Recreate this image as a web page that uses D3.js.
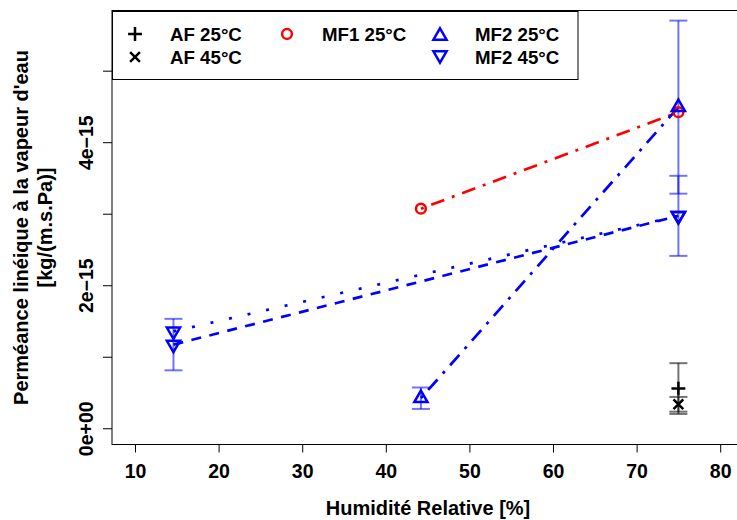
<!DOCTYPE html>
<html><head><meta charset="utf-8">
<script src="https://cdn.jsdelivr.net/npm/d3@7"></script>
<style>
html,body{margin:0;padding:0;background:#fff;}
text{font-family:"Liberation Sans",Arial,Helvetica,sans-serif;font-weight:bold;}
</style></head>
<body>
<svg id="chart" width="737" height="520"></svg>
<script>
// ---- data ----
const xTicks = [10, 20, 30, 40, 50, 60, 70, 80];
const yTicks = [0, 1e-15, 2e-15, 3e-15, 4e-15, 5e-15];
const yTickLabels = ["0e+00", "", "2e\u221215", "", "4e\u221215", ""];

const afX = [75];
const af25 = [0.555e-15];
const af25Err = [0.355e-15];
const af45 = [0.335e-15];
const af45Err = [0.103e-15];

const mf1X = [44.2, 75];
const mf1_25 = [3.07e-15, 4.42e-15];

const mf2_25X = [44.2, 75];
const mf2_25 = [0.42e-15, 4.49e-15];
const mf2_25Err = [0.15e-15, 1.21e-15];

const mf2_45X = [14.6, 75];
const mf2_45 = [1.17e-15, 2.97e-15];
const mf2_45Err = [0.36e-15, 0.56e-15];

const mf2_45bX = [14.6, 75];
const mf2_45b = [1.355e-15, 2.97e-15];

const legendLabels = ["AF 25°C", "AF 45°C", "MF1 25°C", "MF2 25°C", "MF2 45°C"];

// ---- layout ----
const svg = d3.select("#chart");
const x = d3.scaleLinear().domain([7.2, 82.8]).range([111.6, 743.6]);
const y = d3.scaleLinear().domain([-0.2244e-15, 5.8344e-15]).range([444.3, 11]);

const R = 4.9;
const TRC0 = Math.sqrt(4 * Math.PI / (3 * Math.sqrt(3)));
const TRC1 = TRC0 * Math.sqrt(3) / 2, TRC2 = TRC0 / 2;

function symbolPath(type) {
  const r = TRC0 * R, xc = TRC1 * R, yc = TRC2 * R;
  if (type === "up") return `M0,${-r}L${xc},${yc}L${-xc},${yc}Z`;
  if (type === "down") return `M0,${r}L${xc},${-yc}L${-xc},${-yc}Z`;
  if (type === "plus") { const h = Math.SQRT2 * R; return `M${-h},0H${h}M0,${-h}V${h}`; }
  if (type === "cross") return `M${-R},${-R}L${R},${R}M${-R},${R}L${R},${-R}`;
  return null;
}
function drawSymbol(g, type, cx, cy, color) {
  if (type === "circle") {
    g.append("circle").attr("cx", cx).attr("cy", cy).attr("r", R)
      .attr("fill", "none").attr("stroke", color).attr("stroke-width", 2.5);
  } else {
    g.append("path").attr("d", symbolPath(type)).attr("transform", `translate(${cx},${cy})`)
      .attr("fill", "none").attr("stroke", color).attr("stroke-width", 2.5)
      .attr("stroke-linejoin", "miter");
  }
}

// axes
const xAxis = svg.append("g").attr("transform", "translate(0,444.5)")
  .call(d3.axisBottom(x).tickValues(xTicks).tickSize(8).tickPadding(13).tickFormat(d3.format("d")));
xAxis.select(".domain").remove();
xAxis.selectAll("text").remove();
xAxis.selectAll(".tick").append("text").attr("y", 33).attr("text-anchor", "middle")
  .attr("font-size", 19.5).attr("fill", "#000").text(d => d);

const yAxis = svg.append("g").attr("transform", "translate(112,0)")
  .call(d3.axisLeft(y).tickValues(yTicks).tickSize(9).tickFormat((d, i) => yTickLabels[i]));
yAxis.select(".domain").remove();
yAxis.selectAll("text").remove();
yAxis.selectAll(".tick").append("text")
  .attr("transform", "translate(-19,0) rotate(-90)")
  .attr("text-anchor", "middle").attr("font-size", 19.5).attr("fill", "#000")
  .text((d, i) => yTickLabels[i]);

// box
svg.append("rect").attr("x", 112).attr("y", 10.5).attr("width", 640).attr("height", 434)
  .attr("fill", "none").attr("stroke", "#000").attr("stroke-width", 1);

// axis titles
svg.append("text").attr("x", 428).attr("y", 515).attr("text-anchor", "middle")
  .attr("font-size", 20).text("Humidité Relative [%]");
svg.append("text").attr("transform", "translate(27.5,227.5) rotate(-90)").attr("text-anchor", "middle")
  .attr("font-size", 20).text("Perméance linéique à la vapeur d'eau");
svg.append("text").attr("transform", "translate(51.5,227.5) rotate(-90)").attr("text-anchor", "middle")
  .attr("font-size", 20).text("[kg/(m.s.Pa)]");

const plot = svg.append("g");

// lines
function drawLine(xs, ys, color, dash) {
  const pts = xs.map((d, i) => [x(d), y(ys[i])]);
  plot.append("path").attr("d", d3.line()(pts)).attr("fill", "none")
    .attr("stroke", color).attr("stroke-width", 2.7).attr("stroke-dasharray", dash);
}
drawLine(mf1X, mf1_25, "#ff0000", "3,8,14,8");
drawLine(mf2_25X, mf2_25, "#0000ff", "3,8,14,8");
drawLine(mf2_45X, mf2_45, "#0000ff", "10,8.5");
drawLine(mf2_45bX, mf2_45b, "#0000ff", "3,16");

// error bars
function drawErr(xs, ys, es, color) {
  xs.forEach((xv, i) => {
    const cx = x(xv), lo = y(ys[i] - es[i]), hi = y(ys[i] + es[i]);
    const g = plot.append("g").attr("stroke", color).attr("stroke-opacity", 0.55).attr("stroke-width", 2);
    g.append("line").attr("x1", cx).attr("x2", cx).attr("y1", lo).attr("y2", hi);
    g.append("line").attr("x1", cx - 9).attr("x2", cx + 9).attr("y1", lo).attr("y2", lo);
    g.append("line").attr("x1", cx - 9).attr("x2", cx + 9).attr("y1", hi).attr("y2", hi);
  });
}
drawErr(afX, af25, af25Err, "#000");
drawErr(afX, af45, af45Err, "#000");
drawErr(mf2_25X, mf2_25, mf2_25Err, "#0000ff");
drawErr(mf2_45X, mf2_45, mf2_45Err, "#0000ff");

// points
afX.forEach((d, i) => drawSymbol(plot, "plus", x(d), y(af25[i]), "#000"));
afX.forEach((d, i) => drawSymbol(plot, "cross", x(d), y(af45[i]), "#000"));
mf1X.forEach((d, i) => drawSymbol(plot, "circle", x(d), y(mf1_25[i]), "#ff0000"));
mf2_25X.forEach((d, i) => drawSymbol(plot, "up", x(d), y(mf2_25[i]), "#0000ff"));
mf2_45X.forEach((d, i) => drawSymbol(plot, "down", x(d), y(mf2_45[i]), "#0000ff"));
mf2_45bX.forEach((d, i) => drawSymbol(plot, "down", x(d), y(mf2_45b[i]), "#0000ff"));

// legend
const lg = svg.append("g");
lg.append("rect").attr("x", 112.5).attr("y", 11.5).attr("width", 465.5).attr("height", 68)
  .attr("fill", "#fff").attr("stroke", "#000").attr("stroke-width", 1);
const legendItems = [
  {sym: "plus", color: "#000", sx: 135, tx: 170, row: 0, label: legendLabels[0]},
  {sym: "cross", color: "#000", sx: 135, tx: 170, row: 1, label: legendLabels[1]},
  {sym: "circle", color: "#ff0000", sx: 287, tx: 322, row: 0, label: legendLabels[2]},
  {sym: "up", color: "#0000ff", sx: 440, tx: 475, row: 0, label: legendLabels[3]},
  {sym: "down", color: "#0000ff", sx: 440, tx: 475, row: 1, label: legendLabels[4]}
];
legendItems.forEach(it => {
  const cy = it.row === 0 ? 34 : 57;
  const off = it.sym === "up" ? 1.9 : (it.sym === "down" ? -1.9 : 0);
  drawSymbol(lg, it.sym, it.sx, cy + off, it.color);
  lg.append("text").attr("x", it.tx).attr("y", cy + 6.8).attr("font-size", 18.7).text(it.label);
});
</script>
</body></html>
